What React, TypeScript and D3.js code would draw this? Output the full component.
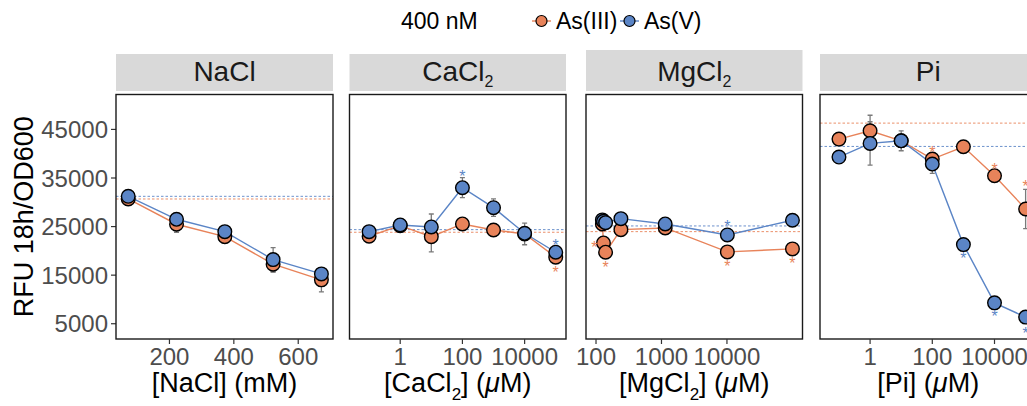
import React from "react";
import * as d3 from "d3";

const W = 1027;
const H = 406;
const ORANGE = "#E8835A";
const BLUE = "#5B85C6";
const FONT = "Liberation Sans, Arial, sans-serif";

// NaCl (mM)
const naclConc = [72, 222, 372, 522, 672];
const naclAs3 = [30680, 25480, 22930, 17260, 14030];
const naclAs5 = [31230, 26500, 23960, 18200, 15260];
const naclAs3Sd = [400, 1650, 500, 1650, 2470];
const naclAs5Sd = [400, 600, 600, 2470, 800];
const naclRef = [30680, 31230];

// CaCl2 (uM)
const caConc = [0.1, 1, 10, 100, 1000, 10000, 100000];
const caAs3 = [23010, 25190, 22930, 25540, 24300, 23485, 18700];
const caAs5 = [23960, 25330, 24920, 33000, 28890, 23620, 19720];
const caAs3Sd = [500, 400, 3150, 500, 600, 2230, 600];
const caAs5Sd = [500, 500, 2670, 2060, 1800, 1000, 600];
const caRef = [23830, 24370];
const caStarsAs3 = [[100000, 16290]];
const caStarsAs5 = [[100, 36080], [100000, 21780]];

// MgCl2 (uM)
const mgConc = [125, 130, 140, 240, 1140, 10140, 100140];
const mgAs3 = [25540, 21630, 19720, 24370, 24720, 19790, 20400];
const mgAs5 = [26370, 26100, 25810, 26630, 25540, 23280, 26300];
const mgAs3Sd = [400, 400, 400, 400, 400, 400, 400];
const mgAs5Sd = [400, 400, 400, 400, 400, 400, 400];
const mgRef = [23960, 25130];
const mgStarsAs3 = [[94, 21430], [140, 17260], [10140, 17530], [100140, 18080]];
const mgStarsAs5 = [[10140, 25810]];

// Pi (uM)
const piConc = [0.1, 1, 10, 100, 1000, 10000, 100000];
const piAs3 = [43010, 44720, 42660, 38900, 41430, 35470, 28620];
const piAs5 = [39310, 42120, 42660, 37870, 21290, 9300, 6360];
const piAs3Sd = [500, 3200, 800, 600, 500, 600, 4050];
const piAs5Sd = [500, 4460, 2055, 1900, 600, 500, 400];
const piRef = [46300, 41500];
const piStarsAs3 = [[100, 40890], [10000, 37520], [100000, 33900]];
const piStarsAs5 = [[1000, 19170], [10000, 7190], [100000, 3760]];

const yTicks = [5000, 15000, 25000, 35000, 45000];

const panelTop = 94.5;
const panelBottom = 339;

const y = d3.scaleLinear().domain([1856, 52190]).range([panelBottom, panelTop]);

const panels = [
  {
    name: "NaCl", sub: "", x0: 116, x1: 333, stripTop: 54,
    x: d3.scaleLinear().domain([34, 708]),
    ticks: [200, 400, 600],
    title: ["[NaCl] (mM)"],
    conc: naclConc, as3: naclAs3, as5: naclAs5, sd3: naclAs3Sd, sd5: naclAs5Sd, ref: naclRef,
    stars3: [], stars5: [],
  },
  {
    name: "CaCl", sub: "2", x0: 349.5, x1: 566, stripTop: 54,
    x: d3.scaleLog().domain([Math.pow(10, -1.63), Math.pow(10, 5.33)]),
    ticks: [1, 100, 10000],
    title: ["[CaCl", "2", "] (", "\u03bc", "M)"],
    conc: caConc, as3: caAs3, as5: caAs5, sd3: caAs3Sd, sd5: caAs5Sd, ref: caRef,
    stars3: caStarsAs3, stars5: caStarsAs5,
  },
  {
    name: "MgCl", sub: "2", x0: 586, x1: 802.5, stripTop: 50,
    x: d3.scaleLog().domain([Math.pow(10, 1.847), Math.pow(10, 5.154)]),
    ticks: [100, 1000, 10000],
    title: ["[MgCl", "2", "] (", "\u03bc", "M)"],
    conc: mgConc, as3: mgAs3, as5: mgAs5, sd3: mgAs3Sd, sd5: mgAs5Sd, ref: mgRef,
    stars3: mgStarsAs3, stars5: mgStarsAs5,
  },
  {
    name: "Pi", sub: "", x0: 820, x1: 1036.5, stripTop: 54,
    x: d3.scaleLog().domain([Math.pow(10, -1.61), Math.pow(10, 5.35)]),
    ticks: [1, 100, 10000],
    title: ["[Pi] (", "\u03bc", "M)"],
    conc: piConc, as3: piAs3, as5: piAs5, sd3: piAs3Sd, sd5: piAs5Sd, ref: piRef,
    stars3: piStarsAs3, stars5: piStarsAs5,
  },
];

function AxisTitle({ parts, cx }) {
  // plain text, subscript "2" and italic mu
  return (
    <text x={cx} y={392} textAnchor="middle" fontSize={27} fontFamily={FONT} fill="#000">
      {parts.map((p, i) => {
        if (p === "2") return <tspan key={i} fontSize={17} dy={8}>{p}</tspan>;
        if (p === "\u03bc") return <tspan key={i} fontStyle="italic">{p}</tspan>;
        const prev = parts[i - 1];
        return <tspan key={i} dy={prev === "2" ? -8 : 0}>{p}</tspan>;
      })}
    </text>
  );
}

function Panel({ p }) {
  const x = p.x.copy().range([p.x0, p.x1]);
  const clipId = "clip-" + p.name;
  const line = d3.line().x((d) => x(d[0])).y((d) => y(d[1]));
  const series = [
    { vals: p.as3, sd: p.sd3, color: ORANGE, ref: p.ref[0], stars: p.stars3 },
    { vals: p.as5, sd: p.sd5, color: BLUE, ref: p.ref[1], stars: p.stars5 },
  ];
  const cx = (p.x0 + p.x1) / 2;
  return (
    <g>
      <rect x={p.x0} y={p.stripTop} width={p.x1 - p.x0} height={91 - p.stripTop} fill="#d9d9d9" />
      <text x={cx} y={81} textAnchor="middle" fontSize={28} fontFamily={FONT} fill="#1a1a1a">
        {p.name}
        {p.sub && <tspan fontSize={16} dy={6}>{p.sub}</tspan>}
      </text>
      <clipPath id={clipId}>
        <rect x={p.x0} y={panelTop} width={p.x1 - p.x0} height={panelBottom - panelTop} />
      </clipPath>
      <g clipPath={`url(#${clipId})`}>
        {series.map((s, i) => (
          <line key={"r" + i} x1={p.x0} x2={p.x1} y1={y(s.ref)} y2={y(s.ref)}
            stroke={s.color} strokeWidth={0.9} strokeDasharray="2.5,2" />
        ))}
        {series.map((s, i) => (
          <g key={"e" + i} stroke="#7a7a7a" strokeWidth={1.3}>
            {s.vals.map((v, j) => {
              const px = x(p.conc[j]);
              const t = y(v + s.sd[j]);
              const b = y(v - s.sd[j]);
              return (
                <g key={j}>
                  <line x1={px} x2={px} y1={t} y2={b} />
                  <line x1={px - 2.5} x2={px + 2.5} y1={t} y2={t} />
                  <line x1={px - 2.5} x2={px + 2.5} y1={b} y2={b} />
                </g>
              );
            })}
          </g>
        ))}
        {series.map((s, i) => (
          <path key={"l" + i} d={line(p.conc.map((c, j) => [c, s.vals[j]]))}
            fill="none" stroke={s.color} strokeWidth={1.4} />
        ))}
        {series.map((s, i) => (
          <g key={"p" + i}>
            {s.vals.map((v, j) => (
              <circle key={j} cx={x(p.conc[j])} cy={y(v)} r={6.8} fill={s.color}
                stroke="#000" strokeWidth={1.4} />
            ))}
          </g>
        ))}
        {series.map((s, i) => (
          <g key={"s" + i}>
            {s.stars.map((st, j) => (
              <text key={j} x={x(st[0])} y={y(st[1]) + 9} textAnchor="middle"
                fontSize={16} fontFamily={FONT} fill={s.color}>*</text>
            ))}
          </g>
        ))}
      </g>
      <rect x={p.x0} y={panelTop} width={p.x1 - p.x0} height={panelBottom - panelTop}
        fill="none" stroke="#1a1a1a" strokeWidth={1.4} />
      {p.ticks.map((t) => (
        <g key={t}>
          <line x1={x(t)} x2={x(t)} y1={panelBottom} y2={panelBottom + 5} stroke="#333" strokeWidth={1.2} />
          <text x={x(t)} y={365} textAnchor="middle" fontSize={24} fontFamily={FONT} fill="#4d4d4d">
            {String(t)}
          </text>
        </g>
      ))}
      <AxisTitle parts={p.title} cx={cx} />
    </g>
  );
}

export default function App() {
  return (
    <div style={{ position: "absolute", left: 0, top: 0, width: W, height: H, background: "#fff" }}>
      <svg width={W} height={H} style={{ display: "block" }}>
        <rect width={W} height={H} fill="#fff" />
        {/* legend */}
        <g fontFamily={FONT} fontSize={23} fill="#000">
          <text x={401} y={29}>400 nM</text>
          <line x1={532} x2={551} y1={21} y2={21} stroke={ORANGE} strokeWidth={1.4} />
          <circle cx={541.5} cy={21} r={5.5} fill={ORANGE} stroke="#000" strokeWidth={1.2} />
          <text x={556} y={29}>As(III)</text>
          <line x1={620} x2={639} y1={21} y2={21} stroke={BLUE} strokeWidth={1.4} />
          <circle cx={629.5} cy={21} r={5.5} fill={BLUE} stroke="#000" strokeWidth={1.2} />
          <text x={644} y={29}>As(V)</text>
        </g>
        {/* y axis */}
        <text transform={`translate(33,${(panelTop + panelBottom) / 2}) rotate(-90)`} textAnchor="middle"
          fontSize={27} fontFamily={FONT} fill="#000">RFU 18h/OD600</text>
        {yTicks.map((t) => (
          <g key={t}>
            <line x1={111} x2={116} y1={y(t)} y2={y(t)} stroke="#333" strokeWidth={1.2} />
            <text x={108} y={y(t) + 8.5} textAnchor="end" fontSize={24} fontFamily={FONT} fill="#4d4d4d">{t}</text>
          </g>
        ))}
        {panels.map((p) => <Panel key={p.name} p={p} />)}
      </svg>
    </div>
  );
}
